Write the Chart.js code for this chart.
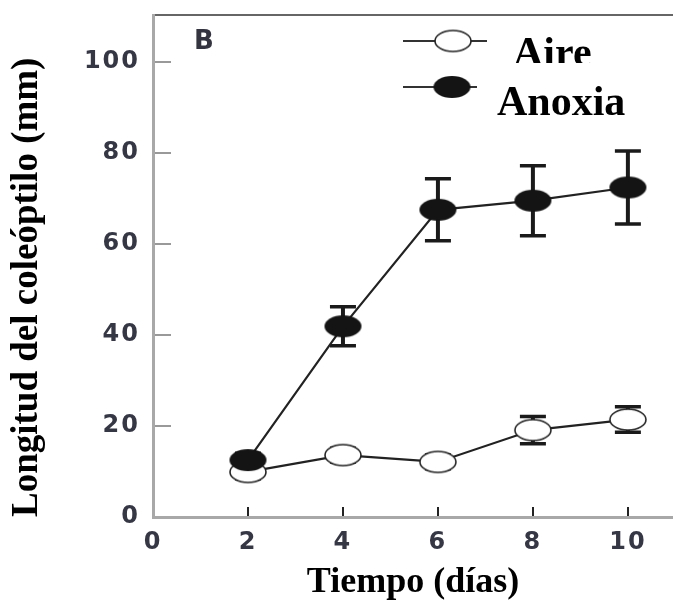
<!DOCTYPE html>
<html>
<head>
<meta charset="utf-8">
<script src="https://cdn.jsdelivr.net/npm/chart.js@4.4.1/dist/chart.umd.min.js"></script>
<style>
    body { margin: 0; background: #fff; }
    #contenedor { width: 673px; height: 603px; position: relative; }
</style>
</head>
<body>
<div id="contenedor"><canvas id="grafico"></canvas></div>
<script>
// Longitud del coleóptilo en aire y en anoxia
const dias = [2, 4, 6, 8, 10];
const aireMedia = [9.9, 13.6, 12.1, 19.1, 21.4];
const aireError = [1.5, 1.5, 1.5, 3.0, 2.8];
const anoxiaMedia = [12.5, 41.9, 67.5, 69.5, 72.4];
const anoxiaError = [1.5, 4.3, 6.8, 7.7, 8.0];
const ticksX = [0, 2, 4, 6, 8, 10];
const ticksY = [0, 20, 40, 60, 80, 100];

// marcador eliptico (los circulos de la figura salen achatados)
function elipse(w, h, relleno, borde, grosor) {
    const c = document.createElement('canvas');
    c.width = w + 4;
    c.height = h + 4;
    const g = c.getContext('2d');
    g.beginPath();
    g.ellipse(c.width / 2, c.height / 2, w / 2, h / 2, 0, 0, 2 * Math.PI);
    g.fillStyle = relleno;
    g.fill();
    if (borde) {
        g.lineWidth = grosor;
        g.strokeStyle = borde;
        g.stroke();
    }
    return c;
}

const puntoAire = elipse(36, 21, '#fff', '#222', 1.6);
const puntoAnoxia = elipse(37, 22, '#141414', null, 0);

// barras de error, antes de los datasets para que los marcadores las tapen
const barrasError = {
    id: 'barrasError',
    beforeDatasetsDraw(chart) {
        const ctx = chart.ctx;
        const sx = chart.scales.x;
        const sy = chart.scales.y;
        const series = [[aireMedia, aireError], [anoxiaMedia, anoxiaError]];
        ctx.save();
        ctx.strokeStyle = '#1a1a1a';
        series.forEach(function (s) {
            for (let i = 0; i < dias.length; i++) {
                const px = sx.getPixelForValue(dias[i]);
                const arriba = sy.getPixelForValue(s[0][i] + s[1][i]);
                const abajo = sy.getPixelForValue(s[0][i] - s[1][i]);
                ctx.lineWidth = 4;
                ctx.beginPath();
                ctx.moveTo(px, arriba);
                ctx.lineTo(px, abajo);
                ctx.stroke();
                ctx.lineWidth = 3.5;
                ctx.beginPath();
                ctx.moveTo(px - 13, arriba);
                ctx.lineTo(px + 13, arriba);
                ctx.moveTo(px - 13, abajo);
                ctx.lineTo(px + 13, abajo);
                ctx.stroke();
            }
        });
        ctx.restore();
    }
};

// numeros de los ejes algo mas anchos: las etiquetas van en la capa z=1,
// despues de los datasets, asi que el espaciado solo les afecta a ellas
const espaciadoTicks = {
    id: 'espaciadoTicks',
    afterDatasetsDraw(chart) {
        chart.ctx.letterSpacing = '2px';
    },
    afterDraw(chart) {
        chart.ctx.letterSpacing = '0px';
    }
};

// leyenda y letra del panel
const leyenda = {
    id: 'leyenda',
    afterDraw(chart) {
        const ctx = chart.ctx;
        ctx.save();
        ctx.letterSpacing = '0px';
        ctx.strokeStyle = '#333';
        ctx.lineWidth = 2;
        ctx.beginPath();
        ctx.moveTo(403, 41);
        ctx.lineTo(487, 41);
        ctx.moveTo(403, 87);
        ctx.lineTo(477, 87);
        ctx.stroke();
        ctx.drawImage(puntoAire, 453 - puntoAire.width / 2, 41 - puntoAire.height / 2);
        ctx.drawImage(puntoAnoxia, 452 - puntoAnoxia.width / 2, 87 - puntoAnoxia.height / 2);

        ctx.fillStyle = '#000';
        ctx.font = 'bold 42px "Liberation Serif"';
        ctx.textBaseline = 'alphabetic';
        ctx.textAlign = 'left';
        ctx.save();
        ctx.beginPath();
        ctx.rect(500, 0, 120, 63);
        ctx.clip();
        ctx.fillText('Aire', 513, 66);
        ctx.restore();
        ctx.fillText('Anoxia', 497, 115);

        ctx.fillStyle = '#33343f';
        ctx.font = 'bold 26px "DejaVu Sans"';
        ctx.fillText('B', 194, 49);
        ctx.restore();
    }
};

new Chart(document.getElementById('grafico'), {
    type: 'line',
    data: {
        datasets: [{
            label: 'Anoxia',
            data: dias.map((d, i) => ({ x: d, y: anoxiaMedia[i] })),
            borderColor: '#222',
            borderWidth: 2.2,
            pointStyle: puntoAnoxia,
            order: 0
        }, {
            label: 'Aire',
            data: dias.map((d, i) => ({ x: d, y: aireMedia[i] })),
            borderColor: '#222',
            borderWidth: 2.2,
            pointStyle: puntoAire,
            order: 1
        }]
    },
    options: {
        responsive: true,
        maintainAspectRatio: false,
        animation: false,
        layout: { padding: 0, autoPadding: false },
        plugins: {
            legend: { display: false },
            tooltip: { enabled: false }
        },
        scales: {
            x: {
                type: 'linear',
                position: 'bottom',
                min: 0,
                max: 10.95,
                afterBuildTicks: (eje) => { eje.ticks = ticksX.map(v => ({ value: v })); },
                afterFit: (eje) => {
                    eje.height = 86;
                    eje.paddingLeft = 0;
                    eje.paddingRight = 0;
                },
                ticks: {
                    z: 1,
                    padding: 21,
                    color: '#363745',
                    font: { family: 'DejaVu Sans', size: 24, weight: 'bold' }
                },
                grid: {
                    drawOnChartArea: false,
                    tickLength: -10,
                    lineWidth: 2,
                    color: (c) => (c.tick && c.tick.value === 0 ? 'rgba(0,0,0,0)' : '#222')
                },
                border: { color: '#a8a8a8', width: 3 },
                title: {
                    display: true,
                    text: 'Tiempo (días)',
                    color: '#000',
                    font: { family: 'Liberation Serif', size: 36, weight: 'bold', lineHeight: 1 },
                    padding: { top: 0, bottom: 2 }
                }
            },
            xArriba: {
                type: 'linear',
                axis: 'x',
                position: 'top',
                min: 0,
                max: 1,
                afterFit: (eje) => {
                    eje.height = 15;
                    eje.paddingLeft = 0;
                    eje.paddingRight = 0;
                },
                ticks: { display: false },
                grid: { display: false },
                border: { color: '#666', width: 2 }
            },
            y: {
                type: 'linear',
                min: 0,
                max: 110.3,
                afterBuildTicks: (eje) => { eje.ticks = ticksY.map(v => ({ value: v })); },
                afterFit: (eje) => {
                    eje.width = 153;
                    eje.paddingTop = 0;
                    eje.paddingBottom = 0;
                },
                ticks: {
                    z: 1,
                    padding: 31,
                    color: '#363745',
                    font: { family: 'DejaVu Sans', size: 24, weight: 'bold' }
                },
                grid: {
                    drawOnChartArea: false,
                    tickLength: -18,
                    lineWidth: 2,
                    color: '#999'
                },
                border: { color: '#a8a8a8', width: 3 },
                title: {
                    display: true,
                    text: 'Longitud del coleóptilo (mm)',
                    align: 'start',
                    color: '#000',
                    font: { family: 'Liberation Serif', size: 37, weight: 'bold', lineHeight: 1 },
                    padding: { top: 9, bottom: 0 }
                }
            }
        }
    },
    plugins: [barrasError, espaciadoTicks, leyenda]
});
</script>
</body>
</html>
